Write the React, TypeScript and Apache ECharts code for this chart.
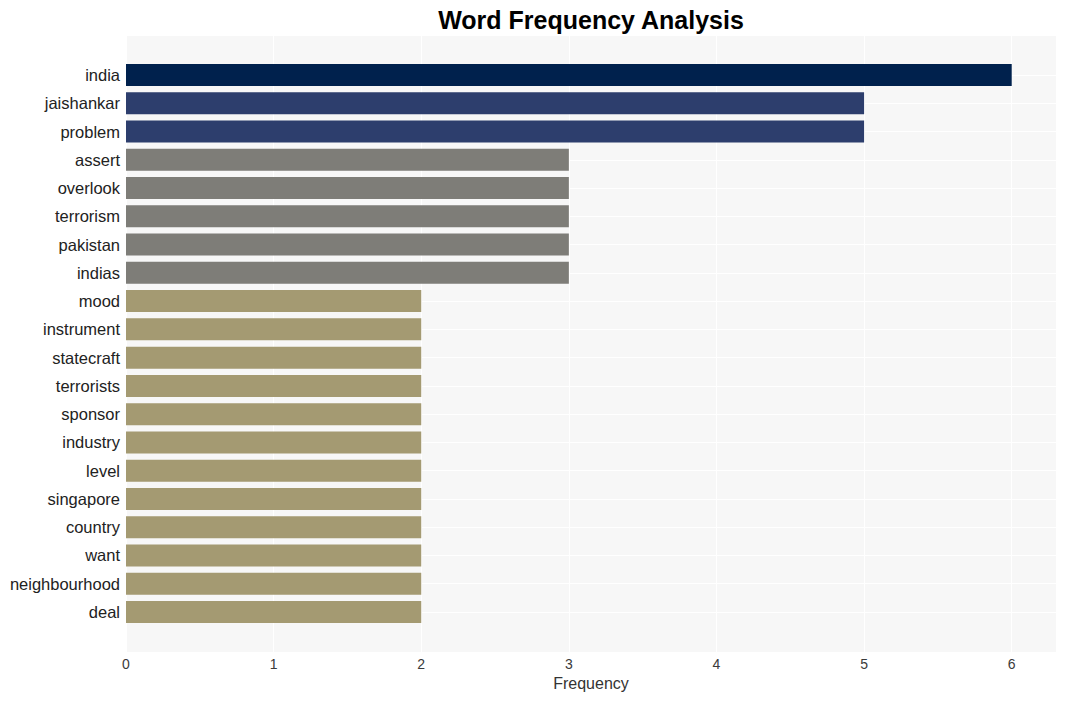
import React, { useEffect, useRef } from "react";
import * as echarts from "echarts";

const words = [
  "india", "jaishankar", "problem", "assert", "overlook", "terrorism", "pakistan", "indias",
  "mood", "instrument", "statecraft", "terrorists", "sponsor", "industry", "level",
  "singapore", "country", "want", "neighbourhood", "deal",
];
const counts = [6, 5, 5, 3, 3, 3, 3, 3, 2, 2, 2, 2, 2, 2, 2, 2, 2, 2, 2, 2];
const xTicks = [0, 1, 2, 3, 4, 5, 6];

const colorFor = (v: number) =>
  v >= 6 ? "#00214d" : v >= 5 ? "#2d3e6d" : v >= 3 ? "#7e7d78" : "#a49a72";

export default function App() {
  const ref = useRef<HTMLDivElement>(null);
  useEffect(() => {
    if (!ref.current) return;
    const chart = echarts.init(ref.current, null, { renderer: "svg" });
    const font = "Liberation Sans, Arial, Helvetica, sans-serif";
    chart.setOption({
      animation: false,
      textStyle: { fontFamily: font },
      title: {
        text: "Word Frequency Analysis",
        left: 586,
        textAlign: "center",
        top: 2,
        textStyle: { fontSize: 25, fontWeight: "bold", color: "#000000", fontFamily: font },
      },
      grid: [
        { left: 126, right: 10, top: 36, bottom: 49, show: true, backgroundColor: "#f7f7f7", borderWidth: 0, containLabel: false },
        { left: 126, right: 10, top: 75, bottom: 89, show: false, containLabel: false },
      ],
      xAxis: [
        {
          gridIndex: 0,
          type: "value",
          min: xTicks[0],
          max: 6.3,
          interval: 1,
          axisLine: { show: false },
          axisTick: { show: false },
          axisLabel: { showMaxLabel: false, fontSize: 14, color: "#3a3a3a", margin: 5, fontFamily: font },
          splitLine: { show: true, lineStyle: { color: "#ffffff", width: 1 } },
          name: "Frequency",
          nameLocation: "middle",
          nameGap: 23,
          nameTextStyle: { fontSize: 16, color: "#333333", fontFamily: font },
        },
        { gridIndex: 1, type: "value", min: 0, max: 6.3, show: false },
      ],
      yAxis: [
        { gridIndex: 0, type: "value", show: false, splitLine: { show: false } },
        {
          gridIndex: 1,
          type: "category",
          inverse: true,
          boundaryGap: false,
          data: words,
          axisLine: { show: false },
          axisTick: { show: false },
          axisLabel: { fontSize: 16.5, color: "#222222", margin: 6, fontFamily: font, padding: [2, 0, 0, 0] },
          splitLine: { show: true, lineStyle: { color: "#ffffff", width: 1 } },
        },
      ],
      series: [
        {
          type: "bar",
          xAxisIndex: 1,
          yAxisIndex: 1,
          barWidth: 22,
          clip: false,
          data: counts.map((v) => ({ value: v, itemStyle: { color: colorFor(v) } })),
        },
      ],
    });
    return () => chart.dispose();
  }, []);
  return <div ref={ref} style={{ width: 1066, height: 701, position: "absolute", left: 0, top: 0 }} />;
}
